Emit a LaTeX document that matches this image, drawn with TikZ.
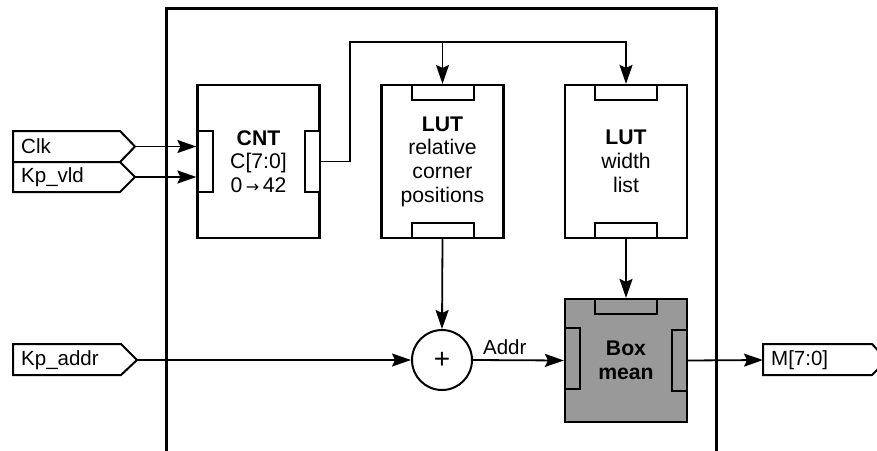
\documentclass[tikz,border=0pt]{standalone}
\usepackage{fontspec}
\setmainfont{Liberation Sans}
\newfontfamily\symfont{DejaVu Sans}
\usetikzlibrary{arrows.meta}

\begin{document}
\begin{tikzpicture}[x=1pt,y=-1pt,
  every node/.style={font=\fontsize{20.5}{23.7}\selectfont, inner sep=0pt},
  frame/.style={line width=3pt},
  blk/.style={draw, line width=2.2pt, fill=white, align=center,
              font=\fontsize{21.2}{23.7}\selectfont,
              minimum width=122pt, minimum height=153pt},
  port/.style={draw, line width=2pt, fill=white},
  hport/.style={port, minimum width=62pt, minimum height=15pt},
  vport/.style={port, minimum width=15pt, minimum height=61pt},
  tag/.style={draw, line width=2pt, fill=white},
  tagtext/.style={anchor=west},
  wire/.style={line width=1.8pt},
  arr/.style={wire, -{Stealth[length=19pt, width=13pt, inset=3pt]}},
  grayfill/.style={fill=black!40}
]
\useasboundingbox (0,0) rectangle (877,450);

% enclosing module boundary (open at the bottom)
\draw[frame] (166,452) -- (166,8) -- (716,8) -- (716,452);

% input / output tags
\draw[tag] (13,131) -- (120,131) -- (135,146.5) -- (120,162) -- (13,162) -- cycle;
\coordinate (clk) at (135,146.5);
\node[tagtext] (clklbl) at (21,146.5) {Clk};

\draw[tag] (13,162) -- (120,162) -- (135,177) -- (120,192) -- (13,192) -- cycle;
\coordinate (vld) at (135,177);
\node[tagtext] (vldlbl) at (21,177) {Kp\_vld};

\draw[tag] (13,344) -- (121,344) -- (137,360) -- (121,375) -- (13,375) -- cycle;
\coordinate (kpaddr) at (137,360);
\node[tagtext] (kpaddrlbl) at (21,360) {Kp\_addr};

\draw[tag] (763,344) -- (872,344) -- (887,360) -- (872,375) -- (763,375) -- cycle;
\coordinate (mout) at (763,360);
\node[tagtext] (mlbl) at (771,360) {M[7:0]};

% counter
\node[blk] (cnt) at (258.5,161.5)
  {\textbf{CNT}\\C[7:0]\\0\,{\symfont\fontsize{16}{16}\selectfont →}\,42};
\node[vport] (cntin) at (205,161) {};
\node[vport] (cntout) at (312,161.5) {};

% look-up tables
\node[blk] (lut1) at (442.5,161.5) {\textbf{LUT}\\relative\\corner\\positions};
\node[hport] (lut1top) at (442.5,92.5) {};
\node[hport] (lut1bot) at (442.5,230) {};

\node[blk] (lut2) at (626,161.5) {\textbf{LUT}\\width\\list};
\node[hport] (lut2top) at (626,92.5) {};
\node[hport] (lut2bot) at (626,230) {};

% box mean
\node[blk, grayfill, minimum height=123pt] (boxm) at (626,360.5) {\textbf{Box}\\\textbf{mean}};
\node[hport, grayfill] (boxmtop) at (626,306.5) {};
\node[vport, grayfill] (boxmin) at (572.5,358.5) {};
\node[vport, grayfill] (boxmout) at (679.5,360.5) {};

% adder
\node[draw, circle, line width=2pt, minimum size=60pt,
      font=\fontsize{28}{28}\selectfont] (add) at (442,360) {+};

% connections
\draw[arr] (clk) -- (clk -| cnt.west);
\draw[arr] (vld) -- (vld -| cnt.west);
\coordinate (bus) at (350,42);
\draw[arr] (cntout.east) -| (bus) -| (lut2.north);
\draw[arr] (bus -| lut1.north) -- (lut1.north);
\draw[arr] (lut1.south) -- (add.north);
\draw[arr] (lut2.south) -- (boxm.north);
\draw[arr] (kpaddr) -- (add.west);
\draw[arr] (add.east) -- (boxm.west)
  node[pos=0.35, yshift=13pt] (addrlbl) {Addr};
\draw[arr] (boxm.east) -- (mout);
\end{tikzpicture}
\end{document}
